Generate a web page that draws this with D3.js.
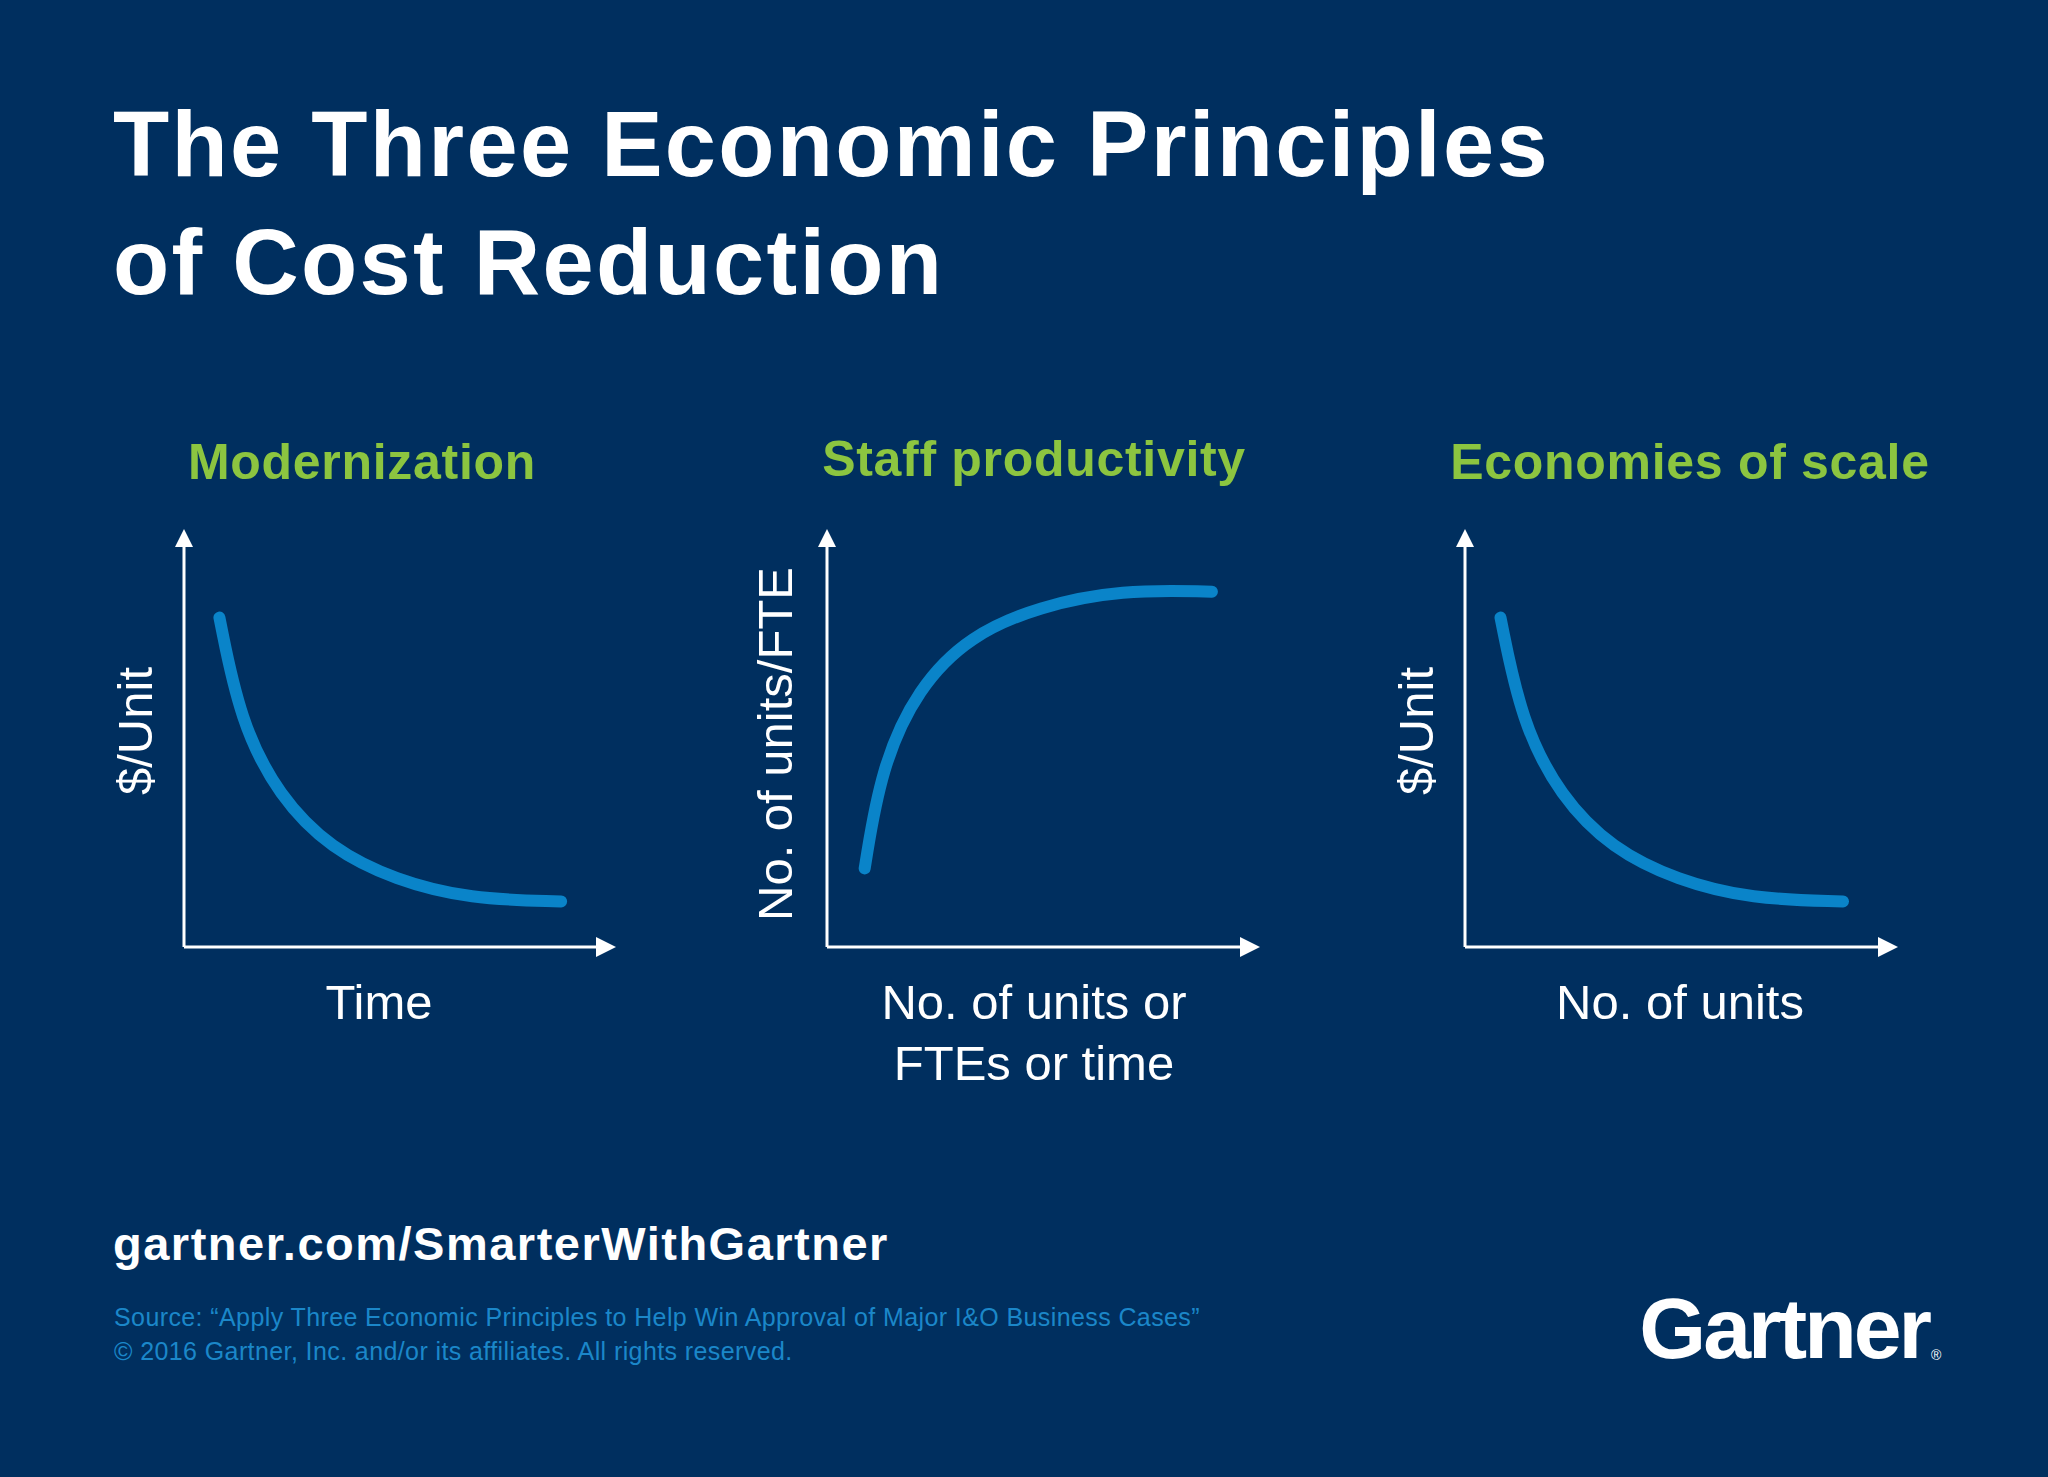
<!DOCTYPE html>
<html lang="en">
<head>
<meta charset="utf-8">
<title>Three Economic Principles</title>
<script src="https://d3js.org/d3.v7.min.js"></script>
<style>
  body { margin: 0; background: #002f5f; }
  text { font-family: "Liberation Sans", Arial, sans-serif; }
</style>
</head>
<body>
<svg width="2048" height="1477"></svg>
<script>
// chart data (arbitrary 0-10 units)
var titles = ["Modernization", "Staff productivity", "Economies of scale"];
var xLabels = [["Time"], ["No. of units or", "FTEs or time"], ["No. of units"]];
var yLabels = ["$/Unit", "No. of units/FTE", "$/Unit"];
var decayX = [0.82, 1.3, 2.2, 3.4, 4.9, 6.6, 8.73];
var decayY = [7.88, 5.4, 3.6, 2.35, 1.6, 1.15, 1.09];
var growX = [0.87, 1.25, 2.1, 3.3, 4.9, 6.8, 8.89];
var growY = [1.88, 4.3, 6.2, 7.45, 8.15, 8.55, 8.5];
var series = [
  decayX.map((x, i) => ({x: x, y: decayY[i]})),
  growX.map((x, i) => ({x: x, y: growY[i]})),
  decayX.map((x, i) => ({x: x, y: decayY[i]}))
];

var svg = d3.select("svg");
svg.append("rect").attr("width", 2048).attr("height", 1477).attr("fill", "#002f5f");

svg.append("text").attr("x", 113).attr("y", 176)
  .attr("font-size", 92).attr("font-weight", "bold").attr("letter-spacing", 2.3).attr("fill", "#fff")
  .text("The Three Economic Principles");
svg.append("text").attr("x", 113).attr("y", 294)
  .attr("font-size", 92).attr("font-weight", "bold").attr("letter-spacing", 2.3).attr("fill", "#fff")
  .text("of Cost Reduction");

var panels = [
  {x0: 184, x1: 616, cx: 362, lx: 379},
  {x0: 827, x1: 1260, cx: 1034, lx: 1034},
  {x0: 1465, x1: 1898, cx: 1690, lx: 1680}
];
var yTop = 529, yBase = 947;

panels.forEach(function(p, k) {
  var g = svg.append("g");
  var x = d3.scaleLinear().domain([0, 10]).range([p.x0, p.x1]);
  var y = d3.scaleLinear().domain([0, 10]).range([yBase, yTop]);

  g.append("text").attr("x", p.cx).attr("y", k == 1 ? 476 : 479)
    .attr("text-anchor", "middle").attr("font-size", 50).attr("font-weight", "bold")
    .attr("letter-spacing", 0.7).attr("fill", "#8cc540").text(titles[k]);

  // axes
  g.append("line").attr("x1", x(0)).attr("y1", y(0)).attr("x2", x(0)).attr("y2", y(10) + 14)
    .attr("stroke", "#fff").attr("stroke-width", 3);
  g.append("line").attr("x1", x(0)).attr("y1", y(0)).attr("x2", x(10) - 16).attr("y2", y(0))
    .attr("stroke", "#fff").attr("stroke-width", 3);
  g.append("path").attr("fill", "#fff")
    .attr("d", `M${x(0)},${y(10)} L${x(0) - 9},${y(10) + 18} L${x(0) + 9},${y(10) + 18} Z`);
  g.append("path").attr("fill", "#fff")
    .attr("d", `M${x(10)},${y(0)} L${x(10) - 20},${y(0) - 10} L${x(10) - 20},${y(0) + 10} Z`);

  // curve
  g.append("path").datum(series[k])
    .attr("d", d3.line().x(d => x(d.x)).y(d => y(d.y)).curve(d3.curveBasis))
    .attr("fill", "none").attr("stroke", "#0a84c9").attr("stroke-width", 12)
    .attr("stroke-linecap", "round");

  xLabels[k].forEach(function(t, i) {
    g.append("text").attr("x", p.lx).attr("y", 1019 + i * 61)
      .attr("text-anchor", "middle").attr("font-size", 49).attr("fill", "#fff").text(t);
  });
  var ly = k == 1 ? 744 : 731, lx = k == 1 ? 792 : x(0) - 32;
  g.append("text").attr("transform", `translate(${lx},${ly}) rotate(-90)`)
    .attr("text-anchor", "middle").attr("font-size", 49).attr("fill", "#fff").text(yLabels[k]);
});

svg.append("text").attr("x", 113).attr("y", 1260)
  .attr("font-size", 47).attr("font-weight", "bold").attr("letter-spacing", 1.5).attr("fill", "#fff")
  .text("gartner.com/SmarterWithGartner");
svg.append("text").attr("x", 114).attr("y", 1326).attr("font-size", 25).attr("letter-spacing", 0.4).attr("fill", "#1b87c9")
  .text("Source: \u201cApply Three Economic Principles to Help Win Approval of Major I&O Business Cases\u201d");
svg.append("text").attr("x", 114).attr("y", 1360).attr("font-size", 25).attr("letter-spacing", 0.4).attr("fill", "#1b87c9")
  .text("\u00a9 2016 Gartner, Inc. and/or its affiliates. All rights reserved.");

svg.append("text").attr("x", 1929).attr("y", 1358).attr("text-anchor", "end")
  .attr("font-size", 86).attr("font-weight", "bold").attr("letter-spacing", -3)
  .attr("fill", "#fff").text("Gartner");
svg.append("text").attr("x", 1931).attr("y", 1360).attr("font-size", 14).attr("fill", "#fff").text("\u00ae");
</script>
</body>
</html>
